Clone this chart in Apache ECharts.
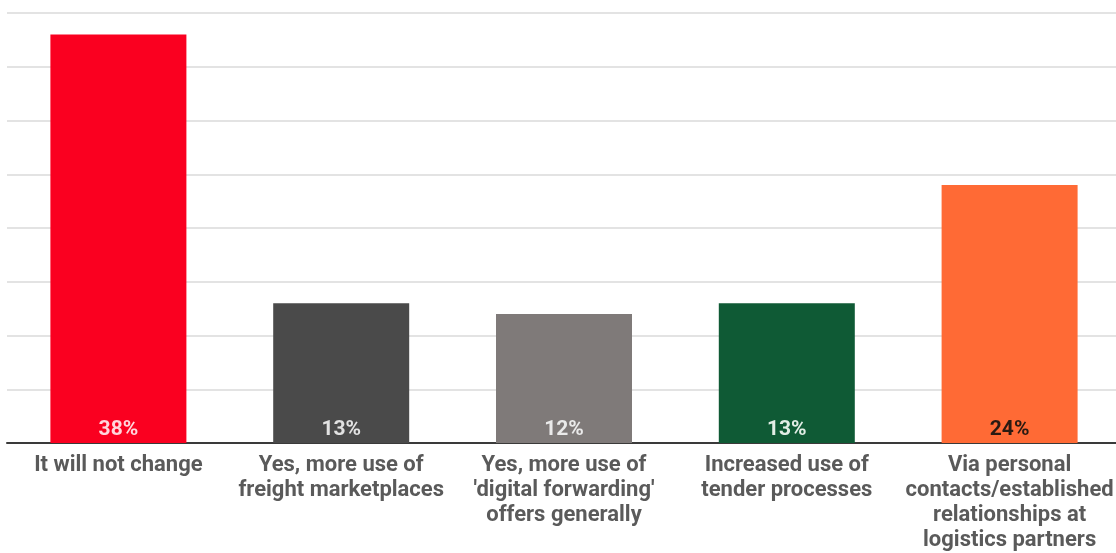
<!DOCTYPE html>
<html>
<head>
<meta charset="utf-8">
<script src="https://cdn.jsdelivr.net/npm/echarts@6/dist/echarts.min.js"></script>
<style>
  html, body { margin: 0; padding: 0; background: #ffffff; overflow: hidden; }
  #chart { width: 1124px; height: 553px; }
</style>
</head>
<body>
<div id="chart"></div>
<script>
// Survey answers: how will freight procurement change?
const categories = [
  'It will not change',
  'Yes, more use of\nfreight marketplaces',
  "Yes, more use of\n'digital forwarding'\noffers generally",
  'Increased use of\ntender processes',
  'Via personal\ncontacts/established\nrelationships at\nlogistics partners'
];
const shares = [38, 13, 12, 13, 24];
const barColors = ['#FA0020', '#4A4A4A', '#7F7A79', '#0F5A35', '#FF6A35'];
const labelColors = ['#FFD6DC', '#E2E2E2', '#EAEAEA', '#E2EEE6', '#2A1A12'];

const chart = echarts.init(document.getElementById('chart'));
chart.setOption({
  animation: false,
  grid: { left: 7, top: 13, width: 1114, bottom: 108, containLabel: false },
  xAxis: {
    type: 'category',
    data: categories,
    axisLine: { lineStyle: { color: '#3a3a3a', width: 2 } },
    axisTick: { show: false },
    axisLabel: {
      interval: 0,
      margin: 10,
      color: '#5a5a5a',
      fontFamily: 'Roboto',
      fontWeight: 'bold',
      fontSize: 22,
      lineHeight: 25
    }
  },
  yAxis: {
    type: 'value',
    min: 0,
    max: 40,
    interval: 5,
    axisLabel: { show: false },
    axisLine: { show: false },
    axisTick: { show: false },
    splitLine: { lineStyle: { color: '#E3E3E3', width: 2 } }
  },
  series: [{
    type: 'bar',
    barWidth: 136,
    data: shares.map((v, i) => ({
      value: v,
      itemStyle: { color: barColors[i] },
      label: { color: labelColors[i] }
    })),
    label: {
      show: true,
      position: 'insideBottom',
      distance: 3,
      formatter: '{c}%',
      fontFamily: 'Roboto',
      fontWeight: 'bold',
      fontSize: 21
    }
  }]
});
</script>
</body>
</html>
